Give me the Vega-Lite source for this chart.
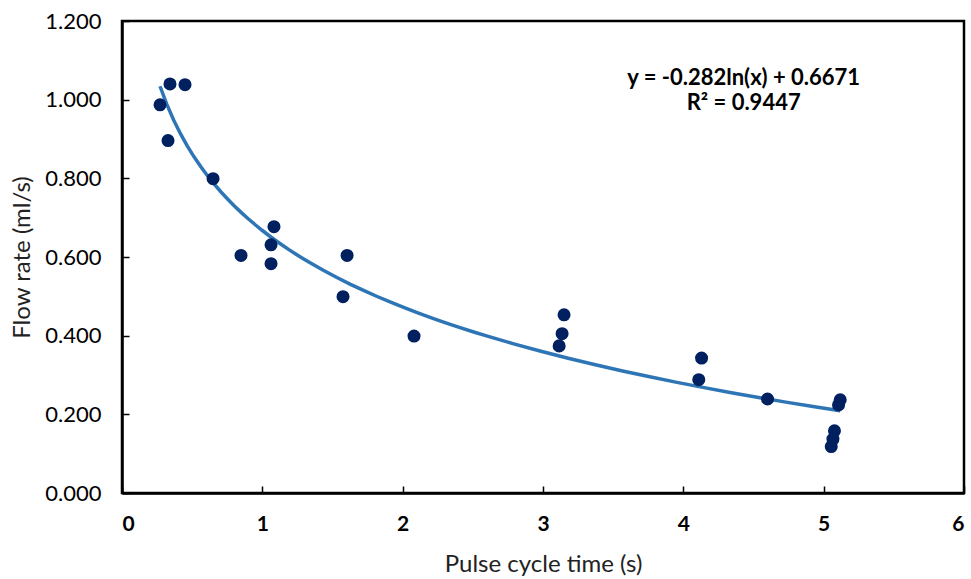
{
  "$schema": "https://vega.github.io/schema/vega-lite/v6.json",
  "width": 842,
  "height": 472,
  "autosize": "none",
  "padding": {"left": 122, "top": 21, "right": 7, "bottom": 86},
  "background": "white",
  "config": {
    "view": {"stroke": "black", "strokeWidth": 2.5},
    "font": "Lato"
  },
  "datasets": {
    "pts": [
      {"t": 0.271, "q": 0.987},
      {"t": 0.342, "q": 1.040},
      {"t": 0.449, "q": 1.038},
      {"t": 0.328, "q": 0.896},
      {"t": 0.649, "q": 0.799},
      {"t": 0.848, "q": 0.604},
      {"t": 1.083, "q": 0.677},
      {"t": 1.062, "q": 0.631},
      {"t": 1.062, "q": 0.583},
      {"t": 1.575, "q": 0.499},
      {"t": 1.604, "q": 0.604},
      {"t": 2.081, "q": 0.399},
      {"t": 3.115, "q": 0.374},
      {"t": 3.136, "q": 0.405},
      {"t": 3.150, "q": 0.453},
      {"t": 4.110, "q": 0.288},
      {"t": 4.130, "q": 0.343},
      {"t": 4.600, "q": 0.239},
      {"t": 5.118, "q": 0.237},
      {"t": 5.106, "q": 0.224},
      {"t": 5.077, "q": 0.158},
      {"t": 5.066, "q": 0.137},
      {"t": 5.054, "q": 0.118}
    ],
    "eq": [
      {"t": 4.43, "q": 1.056, "label": "y = -0.282ln(x) + 0.6671"},
      {"t": 4.43, "q": 0.992, "label": "R² = 0.9447"}
    ]
  },
  "layer": [
    {
      "data": {"name": "pts"},
      "transform": [{"regression": "q", "on": "t", "method": "log"}],
      "mark": {"type": "line", "color": "#2E75B6", "strokeWidth": 3.5},
      "encoding": {
        "x": {
          "field": "t", "type": "quantitative",
          "scale": {"domain": [0, 6], "nice": false},
          "axis": {
            "title": "Pulse cycle time (s)",
            "values": [0, 1, 2, 3, 4, 5, 6],
            "format": "d",
            "grid": false,
            "domainColor": "black", "domainWidth": 2.5,
            "tickColor": "black", "tickWidth": 1.5, "tickSize": -7,
            "labelFont": "Lato", "labelFontSize": 21, "labelFontWeight": "bold", "labelColor": "black",
            "labelPadding": 27,
            "titleFont": "Lato", "titleFontSize": 24, "titleFontWeight": "normal", "titleColor": "#222222",
            "titlePadding": 18
          }
        },
        "y": {
          "field": "q", "type": "quantitative",
          "scale": {"domain": [0, 1.2], "nice": false},
          "axis": {
            "title": "Flow rate (ml/s)",
            "values": [0, 0.2, 0.4, 0.6, 0.8, 1.0, 1.2],
            "format": ".3f",
            "grid": false,
            "domainColor": "black", "domainWidth": 2.5,
            "tickColor": "black", "tickWidth": 1.5, "tickSize": -7,
            "labelFont": "Lato", "labelFontSize": 22, "labelColor": "black",
            "labelPadding": 28,
            "titleFont": "Lato", "titleFontSize": 24, "titleFontWeight": "normal", "titleColor": "#222222",
            "titlePadding": 10
          }
        }
      }
    },
    {
      "data": {"name": "pts"},
      "mark": {"type": "circle", "color": "#002060", "opacity": 1, "size": 170},
      "encoding": {
        "x": {"field": "t", "type": "quantitative"},
        "y": {"field": "q", "type": "quantitative"}
      }
    },
    {
      "data": {"name": "eq"},
      "mark": {"type": "text", "font": "Lato", "fontSize": 22, "fontWeight": "bold", "color": "black", "align": "center", "baseline": "middle"},
      "encoding": {
        "x": {"field": "t", "type": "quantitative"},
        "y": {"field": "q", "type": "quantitative"},
        "text": {"field": "label"}
      }
    }
  ]
}
